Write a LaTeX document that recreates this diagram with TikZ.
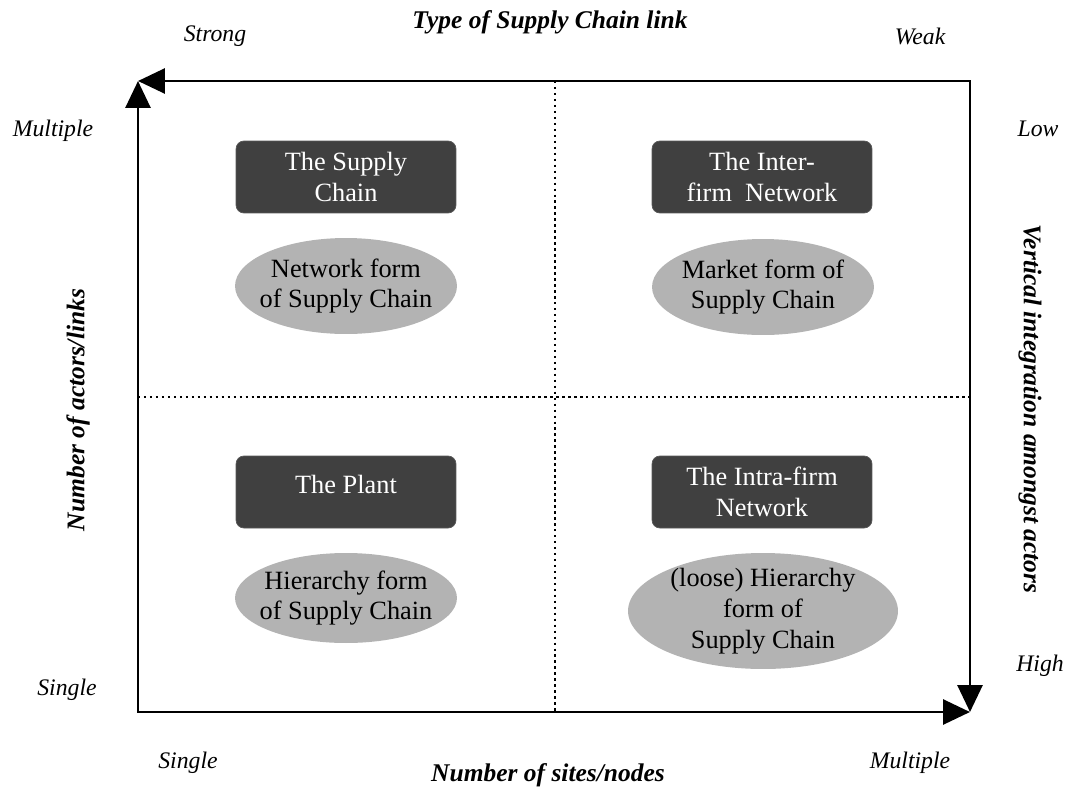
\documentclass[tikz,border=0pt]{standalone}
\usepackage{fontspec}
\setmainfont{Liberation Serif}
\usetikzlibrary{arrows.meta,shapes.geometric}
\definecolor{boxgray}{HTML}{404040}
\definecolor{ellgray}{HTML}{B3B3B3}
\tikzset{
  typebox/.style={draw=gray!70!black, fill=boxgray, rounded corners=4.5pt,
    minimum width=4.4cm, minimum height=1.44cm, inner sep=0pt,
    text=white, align=center, font=\fontsize{15}{17.5}\selectfont},
  formell/.style={ellipse, fill=ellgray, minimum width=4.44cm,
    minimum height=1.92cm, inner sep=0pt},
  formtext/.style={align=center, font=\fontsize{15}{17.5}\selectfont},
  axislabel/.style={font=\fontsize{13.5}{16}\selectfont\itshape},
  axistitle/.style={font=\fontsize{14.5}{17}\selectfont\bfseries\itshape},
  axisline/.style={line width=1.6pt, line cap=rect,
    -{Triangle[length=0.54cm,width=0.5cm]}},
  quadline/.style={line width=1.2pt, dash pattern=on 1.4pt off 2pt}
}

\begin{document}
\begin{tikzpicture}[x=0.02cm,y=-0.02cm]
\useasboundingbox (0,0) rectangle (1068,788);

\coordinate (origin) at (138,712);
\coordinate (topleft) at (138,81);
\coordinate (topright) at (970,81);
\coordinate (botright) at (970,712);
\coordinate (midtop) at (555,81);
\coordinate (midbot) at (555,712);
\coordinate (midleft) at (138,397);
\coordinate (midright) at (970,397);

% axes
\draw[axisline] (origin) -- (topleft);
\draw[axisline] (origin) -- (botright);
\draw[axisline] (topright) -- (topleft);
\draw[axisline] (topright) -- (botright);

% quadrants
\draw[quadline] (midtop) -- (midbot);
\draw[quadline] (midleft) -- (midright);

\node[typebox] (supply) at (346,177) {The Supply\\Chain};
\node[typebox] (inter) at (762,177) {The Inter-\\firm\ \ Network};
\node[typebox, text depth=9pt] (plant) at (346,492) {The Plant};
\node[typebox] (intra) at (762,492) {The Intra-firm\\Network};

\node[formell, label={[formtext]center:Network form\\of Supply Chain}] (network) at (346,286) {};
\node[formell, label={[formtext]center:Market form of\\Supply Chain}] (market) at (763,287) {};
\node[formell, minimum height=1.8cm, label={[formtext]center:Hierarchy form\\of Supply Chain}] (hierarchy) at (346,598) {};
\node[formell, minimum width=5.4cm, minimum height=2.32cm, label={[formtext]center:(loose) Hierarchy\\form of\\Supply Chain}] (loose) at (763,611) {};

% axis labels
\node[axislabel] (strong) at (215,36) {Strong};
\node[axistitle] (linktype) at (550,22) {Type of Supply Chain link};
\node[axislabel] (weak) at (920,36) {Weak};
\node[axislabel] (multleft) at (53,131) {Multiple};
\node[axislabel] (low) at (1038,129) {Low};
\node[axislabel] (singleleft) at (67,690) {Single};
\node[axislabel] (high) at (1040,666) {High};
\node[axislabel] (singlebot) at (188,763) {Single};
\node[axislabel] (multbot) at (910,763) {Multiple};
\node[axistitle] (sites) at (548,775) {Number of sites/nodes};
\node[axistitle, rotate=90] (actors) at (78,410) {Number of actors/links};
\node[axistitle, rotate=-90] (vertical) at (1030,409) {Vertical integration amongst actors};

\end{tikzpicture}
\end{document}
